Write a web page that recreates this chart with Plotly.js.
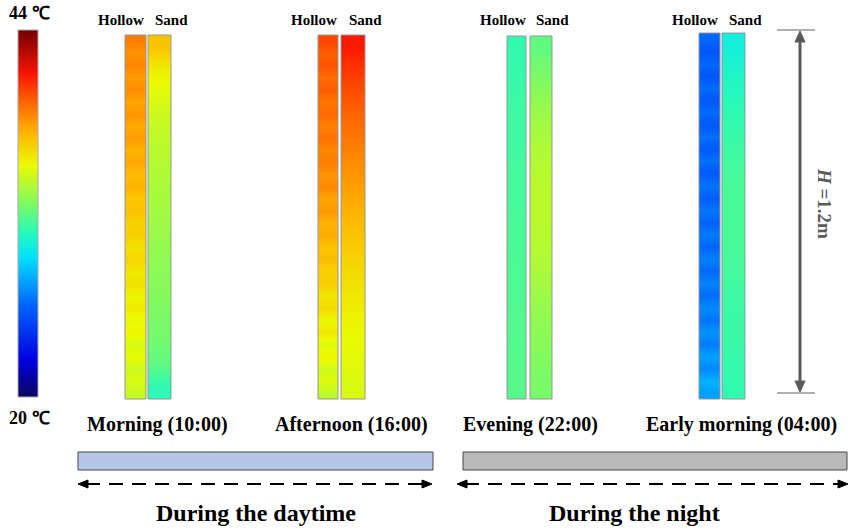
<!DOCTYPE html>
<html>
<head>
<meta charset="utf-8">
<script src="https://cdn.plot.ly/plotly-3.0.1.min.js"></script>
<style>html,body{margin:0;padding:0;background:#fff;}#chart{width:862px;height:531px;}</style>
</head>
<body>
<div id="chart"></div>
<script>
// ---- data (temperatures in °C, listed top to bottom) ----
const periods = ["Morning (10:00)", "Afternoon (16:00)", "Evening (22:00)", "Early morning (04:00)"];
const columnNames = ["Hollow", "Sand"];
const tempMin = 20;
const tempMax = 44;
const colorbarLabels = ["44 ℃", "20 ℃"];
const phaseLabels = ["During the daytime", "During the night"];
const heightLabel = "<i>H</i> =1.2m";

const morningHollow = [38.7,38.1, 38.5,37.9, 38.3,37.7, 38.1,37.5, 37.9,37.3, 37.6,37.0, 37.3,36.7, 36.9,36.3, 36.5,35.9, 36.2,35.6, 35.9,35.3, 35.6,35.0, 35.3,34.7, 35.0,34.4, 34.7,34.2];
const morningSand = [36.8, 35.4, 34.8, 34.3, 34.0, 33.8, 33.6, 33.4, 33.2, 33.0, 32.8, 32.6, 32.4, 32.0, 30.9];
const afternoonHollow = [40.0,39.4, 39.7,39.1, 39.5,38.9, 39.2,38.6, 39.0,38.4, 38.7,38.1, 38.4,37.7, 38.0,37.3, 37.5,36.8, 37.0,36.3, 36.5,35.7, 36.1,35.2, 35.7,34.8, 35.3,34.4, 34.9,34.0];
const afternoonSand = [41.0, 40.3, 39.7, 39.2, 38.7, 38.2, 37.7, 37.2, 36.7, 36.2, 35.8, 35.4, 35.1, 34.9, 34.7];
const eveningHollow = [31.0, 31.1, 31.2, 31.3, 31.3, 31.4, 31.4, 31.5, 31.5, 31.6, 31.6, 31.7, 31.7, 31.8, 31.8];
const eveningSand = [32.0, 32.5, 33.0, 33.4, 33.7, 33.9, 34.0, 34.0, 33.9, 33.7, 33.4, 33.1, 32.9, 32.7, 32.5];
const earlyHollow = [26.1,25.5, 26.1,25.5, 26.2,25.6, 26.2,25.6, 26.3,25.7, 26.3,25.7, 26.4,25.8, 26.5,25.9, 26.6,26.0, 26.7,26.1, 26.8,26.2, 27.0,26.4, 27.2,26.6, 27.5,26.9, 28.0,27.5];
const earlySand = [30.0, 30.4, 30.7, 31.0, 31.2, 31.4, 31.5, 31.5, 31.5, 31.4, 31.3, 31.2, 31.2, 31.1, 31.0];

const profiles = [
  [morningHollow, morningSand],
  [afternoonHollow, afternoonSand],
  [eveningHollow, eveningSand],
  [earlyHollow, earlySand]
];

// ---- layout geometry (pixels) ----
const colX = [
  [[125,146],[148,171]],
  [[318,338],[341,365]],
  [[507,526],[530,552]],
  [[699,720],[722,745]]
];
const colTop = [35, 35, 36, 33];
const colBottom = 399;
const serif = "Liberation Serif, Times New Roman, serif";

const colorscale = [
  [0.00, 'rgb(10,5,95)'],
  [0.10, 'rgb(0,0,225)'],
  [0.25, 'rgb(0,100,255)'],
  [0.38, 'rgb(0,225,255)'],
  [0.45, 'rgb(40,250,185)'],
  [0.53, 'rgb(130,250,95)'],
  [0.63, 'rgb(235,250,0)'],
  [0.72, 'rgb(255,180,0)'],
  [0.80, 'rgb(255,105,0)'],
  [0.88, 'rgb(250,20,0)'],
  [1.00, 'rgb(115,0,0)']
];

const traces = [];
const shapes = [];
const annotations = [];

profiles.forEach((pair, p) => {
  pair.forEach((vals, c) => {
    const [x0, x1] = colX[p][c];
    const w = x1 - x0;
    const top = colTop[p];
    const n = vals.length;
    const yCenters = [];
    for (let i = 0; i < n; i++) yCenters.push(top + (colBottom - top) * (i + 0.5) / n);
    traces.push({
      type: 'heatmap',
      x: [x0 + w / 4, x1 - w / 4],
      y: yCenters,
      z: vals.map(v => [v, v]),
      zsmooth: 'best',
      coloraxis: 'coloraxis',
      hoverinfo: 'skip'
    });
    shapes.push({type:'rect', xref:'x', yref:'y', x0:x0, x1:x1, y0:top, y1:colBottom,
      line:{color:'rgb(150,150,150)', width:1}, fillcolor:'rgba(0,0,0,0)', layer:'above'});
    annotations.push({xref:'x', yref:'y', x:(c===0? x0 - 4 : x1), y:20, xanchor:'center',
      text:'<b>'+columnNames[c]+'</b>', showarrow:false, font:{family:serif, size:15, color:'#000'}});
  });
});

// period labels
const periodCenters = [157, 351, 530, 741];
periods.forEach((t, i) => {
  annotations.push({xref:'x', yref:'y', x:periodCenters[i], y:424, text:'<b>'+t+'</b>', showarrow:false,
    font:{family:serif, size:20, color:'#000'}});
});

// colour bar labels
annotations.push({xref:'x', yref:'y', x:29, y:13, text:'<b>'+colorbarLabels[0]+'</b>', showarrow:false, font:{family:serif, size:18, color:'#000'}});
annotations.push({xref:'x', yref:'y', x:29, y:418, text:'<b>'+colorbarLabels[1]+'</b>', showarrow:false, font:{family:serif, size:18, color:'#000'}});

// phase bars
shapes.push({type:'rect', xref:'x', yref:'y', x0:78, x1:433, y0:452, y1:470, fillcolor:'rgb(180,199,231)', line:{color:'rgb(70,70,70)', width:1}});
shapes.push({type:'rect', xref:'x', yref:'y', x0:463, x1:847, y0:452, y1:470, fillcolor:'rgb(185,185,185)', line:{color:'rgb(70,70,70)', width:1}});

// dashed double arrows
function dashedArrow(xa, xb, y) {
  shapes.push({type:'line', xref:'x', yref:'y', x0:xa+8, x1:xb-8, y0:y, y1:y, line:{color:'#000', width:2, dash:'14px,9px'}});
  shapes.push({type:'path', xref:'x', yref:'y', path:`M ${xa} ${y} L ${xa+10} ${y-4} L ${xa+10} ${y+4} Z`, fillcolor:'#000', line:{color:'#000', width:1}});
  shapes.push({type:'path', xref:'x', yref:'y', path:`M ${xb} ${y} L ${xb-10} ${y-4} L ${xb-10} ${y+4} Z`, fillcolor:'#000', line:{color:'#000', width:1}});
}
dashedArrow(78, 432, 484);
dashedArrow(457, 848, 484);

annotations.push({xref:'x', yref:'y', x:256, y:513, text:'<b>'+phaseLabels[0]+'</b>', showarrow:false, font:{family:serif, size:24, color:'#000'}});
annotations.push({xref:'x', yref:'y', x:634, y:513, text:'<b>'+phaseLabels[1]+'</b>', showarrow:false, font:{family:serif, size:24, color:'#000'}});

// height dimension
shapes.push({type:'line', xref:'x', yref:'y', x0:777, x1:815, y0:30, y1:30, line:{color:'rgb(150,150,150)', width:1.5}});
shapes.push({type:'line', xref:'x', yref:'y', x0:777, x1:815, y0:393, y1:393, line:{color:'rgb(150,150,150)', width:1.5}});
shapes.push({type:'line', xref:'x', yref:'y', x0:800, x1:800, y0:38, y1:385, line:{color:'rgb(90,90,90)', width:3}});
shapes.push({type:'path', xref:'x', yref:'y', path:'M 800 31 L 795 42 L 805 42 Z', fillcolor:'rgb(90,90,90)', line:{color:'rgb(90,90,90)', width:1}});
shapes.push({type:'path', xref:'x', yref:'y', path:'M 800 392 L 795 381 L 805 381 Z', fillcolor:'rgb(90,90,90)', line:{color:'rgb(90,90,90)', width:1}});
annotations.push({xref:'x', yref:'y', x:825, y:203, text:'<b>'+heightLabel+'</b>', textangle:90, showarrow:false,
  font:{family:serif, size:19, color:'rgb(90,90,90)'}});

const layout = {
  width: 862, height: 531,
  margin: {l:0, r:0, t:0, b:0, pad:0},
  paper_bgcolor: '#fff', plot_bgcolor: '#fff',
  showlegend: false,
  xaxis: {range:[0,862], visible:false, fixedrange:true},
  yaxis: {range:[531,0], visible:false, fixedrange:true},
  coloraxis: {
    cmin: tempMin, cmax: tempMax, colorscale: colorscale,
    colorbar: {
      x: 18/862, xanchor:'left', y: 1 - 30/531, yanchor:'top',
      thickness: 20, thicknessmode:'pixels', len: 367, lenmode:'pixels',
      xpad:0, ypad:0, outlinewidth:1, outlinecolor:'rgb(170,170,170)',
      showticklabels:false, ticks:''
    }
  },
  shapes: shapes,
  annotations: annotations
};

Plotly.newPlot('chart', traces, layout, {staticPlot:true, displayModeBar:false});
</script>
</body>
</html>
